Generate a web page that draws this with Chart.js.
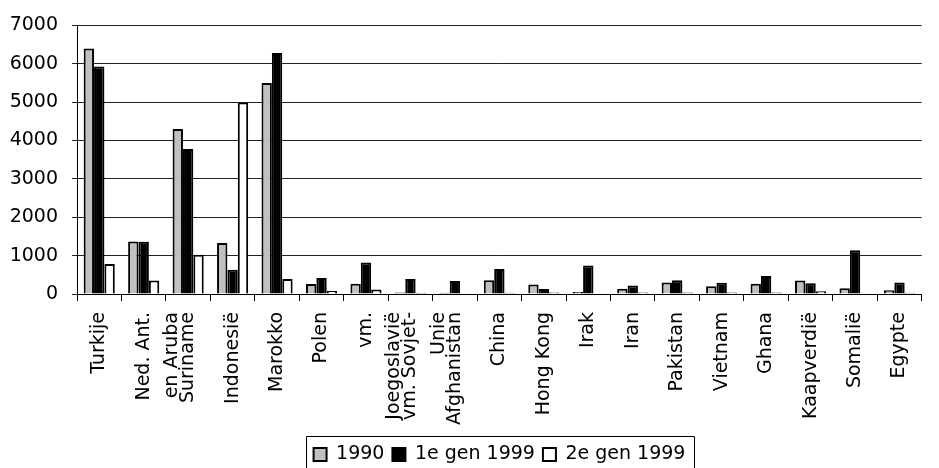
<!DOCTYPE html>
<html>
<head>
<meta charset="utf-8">
<script src="https://cdn.jsdelivr.net/npm/chart.js@4.4.1/dist/chart.umd.min.js"></script>
<style>
html,body{margin:0;padding:0;background:#fff;}
#wrap{width:939px;height:468px;overflow:hidden;}
</style>
</head>
<body>
<div id="wrap"><canvas id="c" width="939" height="468"></canvas></div>
<script>
const categories = ['Turkije', ['Ned. Ant.', 'en Aruba'], 'Suriname', 'Indonesië', 'Marokko', 'Polen',
  ['vm.', 'Joegoslavië'], ['vm. Sovjet-', 'Unie'], 'Afghanistan', 'China', 'Hong Kong', 'Irak', 'Iran',
  'Pakistan', 'Vietnam', 'Ghana', 'Kaapverdië', 'Somalië', 'Egypte'];
const seriesNames = ['1990', '1e gen 1999', '2e gen 1999'];
const v1990   = [6400, 1370, 4300, 1330, 5500, 260, 270, 40, 30, 360, 250, 50, 140, 300, 200, 270, 350, 150, 100];
const gen1_99 = [5930, 1360, 3780, 630, 6280, 420, 820, 390, 340, 650, 130, 740, 220, 360, 290, 470, 280, 1140, 300];
const gen2_99 = [780, 350, 1020, 4990, 390, 80, 120, 30, 10, 30, 40, 10, 40, 40, 40, 40, 70, 10, 30];
const yTicks = [0, 1000, 2000, 3000, 4000, 5000, 6000, 7000];

const FONT = 'DejaVu Sans';

const legendTweak = {
  id: 'legendTweak',
  beforeDraw(chart) {
    const lg = chart.legend;
    if (!lg || lg._shifted === lg.top + ':' + lg.left) return;
    lg.left += 30; lg.right += 30;
    lg.adjustHitBoxes();
    lg._shifted = lg.top + ':' + lg.left;
  },
  afterDraw(chart) {
    const lg = chart.legend;
    if (!lg || !lg.legendHitBoxes || !lg.legendHitBoxes.length) return;
    const hb = lg.legendHitBoxes;
    let l = Infinity, r = -Infinity;
    hb.forEach(b => { l = Math.min(l, b.left); r = Math.max(r, b.left + b.width); });
    const ctx = chart.ctx;
    ctx.save();
    ctx.strokeStyle = '#000';
    ctx.lineWidth = 1;
    ctx.beginPath();
    ctx.rect(Math.round(l - 8) + 0.5, Math.round(lg.top - 1) + 0.5, Math.round(r - l + 16), 60);
    ctx.stroke();
    ctx.restore();
  }
};

new Chart(document.getElementById('c'), {
  type: 'bar',
  data: {
    labels: categories,
    datasets: [
      { label: seriesNames[0], data: v1990, backgroundColor: '#c0c0c0', borderColor: '#000', borderWidth: 2 },
      { label: seriesNames[1], data: gen1_99, backgroundColor: '#000000', borderColor: '#000', borderWidth: 2 },
      { label: seriesNames[2], data: gen2_99, backgroundColor: '#ffffff', borderColor: '#000', borderWidth: 2 }
    ]
  },
  options: {
    responsive: false,
    animation: false,
    devicePixelRatio: 1,
    layout: { padding: { top: 20, right: 0, left: 0, bottom: -6 } },
    datasets: { bar: { categoryPercentage: 0.7, barPercentage: 1.0 } },
    plugins: {
      tooltip: { enabled: false },
      legend: {
        position: 'bottom',
        labels: {
          font: { family: FONT, size: 19 },
          color: '#000',
          boxWidth: 13,
          boxHeight: 13,
          padding: 8
        }
      }
    },
    scales: {
      x: {
        grid: { display: true, drawOnChartArea: false, offset: true, color: '#000', tickLength: 7 },
        border: { display: true, color: '#000', width: 1 },
        ticks: {
          font: { family: FONT, size: 19, lineHeight: 1.5 },
          color: '#000',
          minRotation: 90, maxRotation: 90,
          autoSkip: false,
          padding: 11
        },
        afterFit(scale) { scale.height = 143; }
      },
      y: {
        min: 0, max: 7000,
        afterBuildTicks(scale) { scale.ticks = yTicks.map(v => ({ value: v })); },
        grid: { color: '#222', lineWidth: 1, tickLength: 5 },
        border: { display: true, color: '#000', width: 1 },
        ticks: {
          font: { family: FONT, size: 19 },
          color: '#000',
          padding: 14,
          callback: (v) => String(v)
        },
        afterFit(scale) { scale.width = 77; }
      }
    }
  },
  plugins: [legendTweak]
});
</script>
</body>
</html>
